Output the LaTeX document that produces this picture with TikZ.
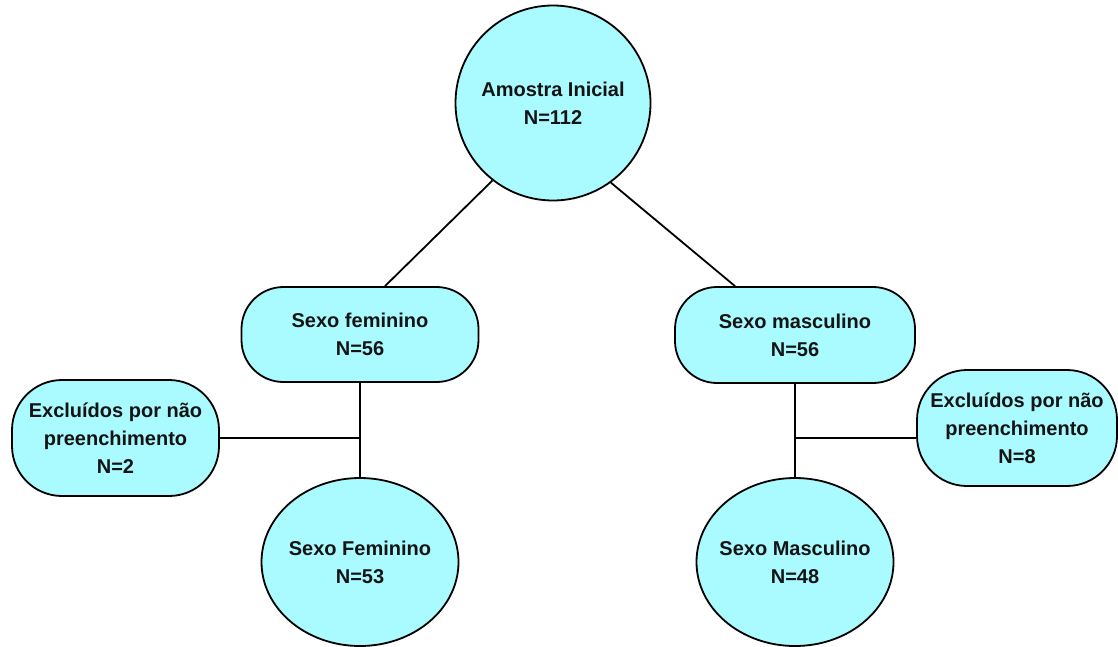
\documentclass[tikz,border=0pt]{standalone}
\usepackage{fontspec}
\setmainfont{Liberation Sans}
\usetikzlibrary{shapes.geometric}
\definecolor{boxfill}{RGB}{170,251,255}
\definecolor{inkc}{RGB}{20,20,20}
\begin{document}
\begin{tikzpicture}[x=1pt,y=-1pt,
  txt/.style={font=\fontsize{20}{28}\selectfont\bfseries, align=center, text=inkc},
  base/.style={draw=black, line width=1.8pt, fill=boxfill, txt, inner sep=0pt},
  circ/.style={base, circle, minimum size=195pt},
  ell/.style={base, ellipse, minimum width=197pt, minimum height=168pt},
  pill/.style={base, rectangle, rounded corners=42pt, minimum width=237pt, minimum height=95pt},
  excl/.style={base, rectangle, rounded corners=50pt, minimum width=205pt, minimum height=116pt},
  conn/.style={draw=black, line width=1.8pt}
]
\useasboundingbox (0,0) rectangle (1118,646);
\fill[white] (0,0) rectangle (1118,646);

\node[circ] (top) at (553,103) {Amostra Inicial\\N=112};
\node[pill] (fem) at (360,334.5) {Sexo feminino\\N=56};
\node[pill, minimum width=240pt, minimum height=96pt] (masc) at (795,335) {Sexo masculino\\N=56};
\node[excl, minimum width=207pt] (exL) at (115.5,438) {Excluídos por não\\preenchimento\\N=2};
\node[excl, minimum width=200pt] (exR) at (1017,428) {Excluídos por não\\preenchimento\\N=8};
\node[ell, label={[txt]center:Sexo Feminino\\N=53}] (femB) at (360,562) {};
\node[ell, label={[txt]center:Sexo Masculino\\N=48}] (mascB) at (795,562) {};

\draw[conn] (top.232.7) -- ([xshift=25pt]fem.north);
\draw[conn] (top.306.9) -- ([xshift=-60pt]masc.north);

\draw[conn] (fem.south) -- (femB.north);
\coordinate (jL) at (fem.south |- exL.east);
\draw[conn] (exL.east) -- (jL);

\draw[conn] (masc.south) -- (mascB.north);
\coordinate (jR) at ([yshift=-10pt]masc.south |- exR.west);
\draw[conn] ([yshift=-10pt]exR.west) -- (jR);
\end{tikzpicture}
\end{document}
